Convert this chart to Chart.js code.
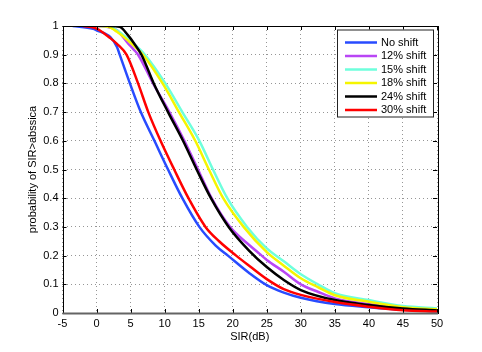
<!DOCTYPE html>
<html>
<head>
<meta charset="utf-8">
<script src="https://cdn.jsdelivr.net/npm/chart.js"></script>
<style>
    html, body { margin: 0; padding: 0; background: #fff; }
</style>
</head>
<body>
<canvas id="grafico" width="482" height="352"></canvas>
<script>
// eixos
const xTickLabels = ['-5', '0', '5', '10', '15', '20', '25', '30', '35', '40', '45', '50']
const yTickLabels = ['0', '0.1', '0.2', '0.3', '0.4', '0.5', '0.6', '0.7', '0.8', '0.9', '1']
const legendLabels = ['No shift', '12% shift', '15% shift', '18% shift', '24% shift', '30% shift']

// pontos [SIR, probabilidade]
const noShift = [[-3.5, 1], [-0.5, 0.99], [0, 0.985], [2, 0.962], [3, 0.927], [3.4, 0.9], [4.9, 0.8], [6.5, 0.7], [8.5, 0.6], [10.5, 0.5], [12.6, 0.4], [15.1, 0.3], [17.5, 0.235], [19.3, 0.2], [22.5, 0.138], [25, 0.097], [27.5, 0.071], [30, 0.053], [35, 0.031], [40, 0.02], [45, 0.011], [50, 0.006]]
const shift12 = [[0, 1], [2, 0.995], [3, 0.985], [4.6, 0.94], [5.5, 0.917], [6.1, 0.9], [8.3, 0.8], [10.7, 0.7], [12.9, 0.6], [14.9, 0.5], [16.9, 0.4], [19.6, 0.3], [22.5, 0.235], [24, 0.205], [25, 0.185], [27.5, 0.144], [30, 0.1], [32.5, 0.074], [35, 0.051], [40, 0.031], [45, 0.018], [50, 0.01]]
const shift15 = [[0, 1], [2, 0.997], [3, 0.985], [4.6, 0.955], [7.1, 0.9], [10.1, 0.8], [12.6, 0.7], [15.1, 0.6], [17.1, 0.5], [19.2, 0.4], [22.1, 0.3], [25, 0.225], [27.5, 0.18], [30, 0.135], [32.5, 0.1], [35, 0.069], [40, 0.045], [45, 0.024], [50, 0.016]]
const shift18 = [[0, 1], [1.7, 0.997], [3, 0.98], [4.6, 0.95], [6.8, 0.9], [9.7, 0.8], [12.1, 0.7], [14.5, 0.6], [16.5, 0.5], [18.6, 0.4], [21.6, 0.3], [25, 0.212], [27.5, 0.165], [30, 0.121], [32.5, 0.09], [35, 0.062], [40, 0.039], [45, 0.02], [50, 0.013]]
const shift24 = [[1.7, 1], [3.4, 0.997], [4.6, 0.968], [5.5, 0.94], [6.6, 0.9], [8.4, 0.8], [10.5, 0.7], [12.7, 0.6], [14.7, 0.5], [16.8, 0.4], [19.4, 0.3], [22.5, 0.215], [25, 0.16], [27.5, 0.115], [30, 0.08], [35, 0.045], [40, 0.028], [45, 0.016], [50, 0.009]]
const shift30 = [[-2, 1], [0, 0.991], [2, 0.958], [3, 0.938], [4.4, 0.9], [6.1, 0.8], [7.6, 0.7], [9.4, 0.6], [11.4, 0.5], [13.5, 0.4], [16, 0.3], [18, 0.25], [20.5, 0.2], [22.5, 0.163], [25, 0.118], [27.5, 0.083], [30, 0.063], [35, 0.038], [40, 0.022], [45, 0.01], [50, 0.005]]

const series = [noShift, shift12, shift15, shift18, shift24, shift30]
const cores = ['rgb(40,75,255)', 'rgb(185,70,245)', 'rgb(110,255,220)', 'rgb(245,245,0)', 'rgb(0,0,0)', 'rgb(255,0,0)']

const fonte = { family: '"Liberation Sans", Arial, sans-serif', size: 11 }

// caixa, ticks para dentro e legenda estilo matlab
const moldura = {
    id: 'moldura',
    afterDraw: (chart) => {
        const c = chart.ctx
        const a = chart.chartArea
        const sx = chart.scales.x
        const sy = chart.scales.y
        c.save()
        c.strokeStyle = '#000'
        c.lineWidth = 1
        sx.ticks.forEach(t => {
            const px = Math.round(sx.getPixelForValue(t.value)) + 0.5
            c.beginPath()
            c.moveTo(px, a.bottom); c.lineTo(px, a.bottom - 4)
            c.moveTo(px, a.top); c.lineTo(px, a.top + 4)
            c.stroke()
        })
        sy.ticks.forEach(t => {
            const py = Math.round(sy.getPixelForValue(t.value)) + 0.5
            c.beginPath()
            c.moveTo(a.left, py); c.lineTo(a.left + 4, py)
            c.moveTo(a.right, py); c.lineTo(a.right - 4, py)
            c.stroke()
        })
        c.strokeRect(Math.round(a.left) + 0.5, Math.round(a.top) + 0.5, Math.round(a.right - a.left), Math.round(a.bottom - a.top))
        c.strokeStyle = 'rgb(100,100,100)'
        c.lineWidth = 2
        c.beginPath()
        c.moveTo(a.left, a.bottom + 0.5); c.lineTo(a.right + 1, a.bottom + 0.5)
        c.stroke()

        // legenda
        const lx = 337, ly = 29.5, lw = 96, lh = 87
        c.fillStyle = '#fff'
        c.fillRect(lx, ly, lw, lh)
        c.strokeStyle = '#222'
        c.lineWidth = 1
        c.strokeRect(lx + 0.5, ly + 0.5, lw, lh)
        c.font = fonte.size + 'px ' + fonte.family
        c.textBaseline = 'middle'
        c.textAlign = 'left'
        chart.data.datasets.forEach((ds, i) => {
            const y = 42.5 + i * 13.5
            c.strokeStyle = ds.borderColor
            c.lineWidth = 2.5
            c.beginPath()
            c.moveTo(345, y); c.lineTo(377, y)
            c.stroke()
            c.fillStyle = '#000'
            c.fillText(ds.label, 381, y)
        })
        c.restore()
    }
}

const ctx = document.getElementById('grafico')

var chart = new Chart(ctx, {
    type: 'line',
    data: {
        datasets: series.map((s, i) => ({
            label: legendLabels[i],
            data: s.map(p => ({ x: p[0], y: p[1] })),
            borderColor: cores[i],
            borderWidth: 2.5,
            pointRadius: 0,
            fill: false,
            cubicInterpolationMode: 'monotone',
            order: -i
        }))
    },
    options: {
        responsive: false,
        animation: false,
        layout: { padding: { top: 26, right: 45, left: 0, bottom: 0 } },
        plugins: { legend: { display: false }, tooltip: { enabled: false } },
        scales: {
            x: {
                type: 'linear',
                min: -5,
                max: 50,
                afterFit: s => { s.height = 39 },
                ticks: {
                    stepSize: 5,
                    color: '#000',
                    font: fonte,
                    padding: 4,
                    maxRotation: 0,
                    callback: (v, i) => xTickLabels[i]
                },
                grid: { color: 'rgb(150,150,150)', drawTicks: false },
                border: { display: false, dash: [1, 3] },
                title: { display: true, text: 'SIR(dB)', color: '#000', font: fonte, padding: { top: 0, bottom: 8 } }
            },
            y: {
                min: 0,
                max: 1,
                afterFit: s => { s.width = 62.5 },
                ticks: {
                    stepSize: 0.1,
                    color: '#000',
                    font: fonte,
                    padding: 4,
                    callback: (v, i) => yTickLabels[i]
                },
                grid: { color: 'rgb(150,150,150)', drawTicks: false },
                border: { display: false, dash: [1, 3] },
                title: { display: true, text: 'probability of SIR>abssica', color: '#000', font: fonte, padding: { top: 26, bottom: 0 } }
            }
        }
    },
    plugins: [moldura]
})
</script>
</body>
</html>
